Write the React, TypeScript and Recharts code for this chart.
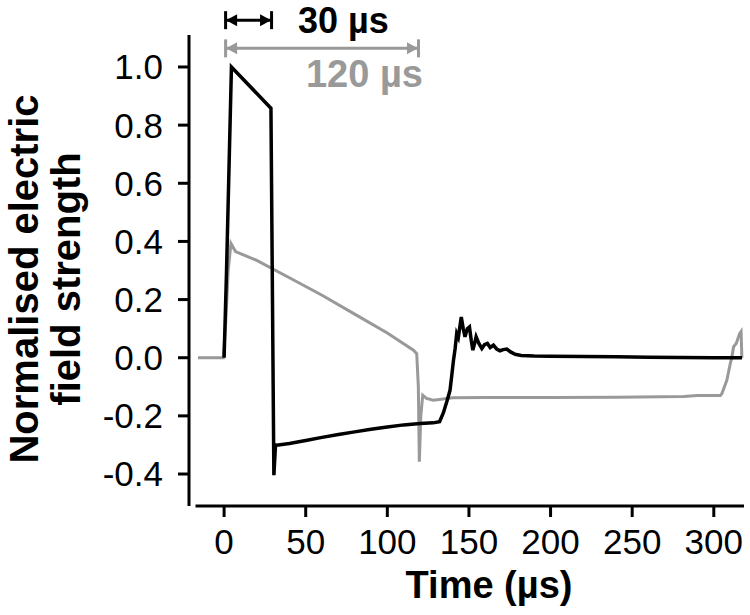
import React from 'react';
import { LineChart, Line, XAxis, YAxis, ReferenceLine, Customized } from 'recharts';

// 30 µs pulse (black)
const pulse30Time = [
  0, 1.5, 4.5, 28.7, 30.5, 31.5, 32.2, 40, 50, 60, 70, 80, 90, 100, 110, 120, 128, 132,
  134.3, 136.5, 138.4, 139.5, 140.5, 141.5, 142.5, 143.5, 145.3, 146.5, 147.6, 149, 150.3,
  151.4, 152.4, 153.5, 154.4, 156, 157.9, 159.5, 161.3, 163, 165, 167, 169, 171, 173.2, 175.5,
  178.3, 182, 190, 200, 220, 240, 260, 280, 300, 317.3,
];
const pulse30Field = [
  0, 0.3, 1.0, 0.858, -0.404, -0.3, -0.301, -0.295, -0.285, -0.274, -0.264, -0.255, -0.246,
  -0.238, -0.231, -0.226, -0.224, -0.22,
  -0.19, -0.15, -0.112, -0.06, -0.01, 0.03, 0.083, 0.07, 0.14, 0.1, 0.072, 0.1, 0.106,
  0.06, 0.026, 0.05, 0.072, 0.05, 0.032, 0.045, 0.049, 0.035, 0.043, 0.03, 0.024, 0.028, 0.03, 0.02,
  0.012, 0.008, 0.006, 0.005, 0.004, 0.003, 0.002, 0.001, 0, 0,
];

// 120 µs pulse (grey)
const pulse120Time = [
  -16, -0.5, 1, 2.5, 4.2, 7, 20, 40, 60, 80, 100, 116, 118, 119, 119.6, 120.5, 121.7, 124, 128.2,
  140, 160, 200, 240, 281.5, 290, 304, 305, 308, 310.1, 311.1, 312.1, 313.8, 315.8, 316.7, 317.2,
];
const pulse120Field = [
  0, 0, 0.12, 0.3, 0.393, 0.365, 0.335, 0.275, 0.215, 0.15, 0.085, 0.026, 0.014, -0.1, -0.358,
  -0.2, -0.129, -0.14, -0.146,
  -0.138, -0.137, -0.137, -0.136, -0.133, -0.13, -0.13, -0.123, -0.077, -0.02, 0.003, 0.037, 0.05,
  0.083, 0.09, 0.0,
];

const xTicks = [0, 50, 100, 150, 200, 250, 300];
const yTicks = [-0.4, -0.2, 0.0, 0.2, 0.4, 0.6, 0.8, 1.0];

const pulseWidthLabels = ['30 µs', '120 µs'];
const pulseWidths = [30, 120];
const arrowLevels = [1.161, 1.064];

const pulse30 = pulse30Time.map((t, i) => ({ t, v: pulse30Field[i] }));
const pulse120 = pulse120Time.map((t, i) => ({ t, v: pulse120Field[i] }));

const BLACK = '#000000';
const GREY = '#999999';
const FONT = '"Liberation Sans", Arial, Helvetica, sans-serif';

const makeArrow = (color: string, text: string, mode: 'right' | 'below') => (props: any) => {
  const { x1, y1, x2 } = props;
  const y = y1;
  const head = 11;
  const half = 6;
  const bar = 9;
  const a = x1 + 2;
  const b = x2 - 2;
  return (
    <g>
      <line x1={a} y1={y} x2={b} y2={y} stroke={color} strokeWidth={3} />
      <line x1={x1 + 1.5} y1={y - bar} x2={x1 + 1.5} y2={y + bar} stroke={color} strokeWidth={3} />
      <line x1={x2 - 1.5} y1={y - bar} x2={x2 - 1.5} y2={y + bar} stroke={color} strokeWidth={3} />
      <polygon points={`${a},${y} ${a + head},${y - half} ${a + head},${y + half}`} fill={color} />
      <polygon points={`${b},${y} ${b - head},${y - half} ${b - head},${y + half}`} fill={color} />
      {mode === 'right' ? (
        <text x={x2 + 25} y={y + 13} fill={color} fontFamily={FONT} fontWeight="bold" fontSize={36}>
          {text}
        </text>
      ) : (
        <text x={x2 + 3} y={y + 39} textAnchor="end" fill={color} fontFamily={FONT} fontWeight="bold" fontSize={38}>
          {text}
        </text>
      )}
    </g>
  );
};

const AxisTitles = () => (
  <g fontFamily={FONT} fontWeight="bold" fill="#000">
    <text x={489} y={598} textAnchor="middle" fontSize={38}>Time (µs)</text>
    <text transform="translate(38,279) rotate(-90)" textAnchor="middle" fontSize={40}>Normalised electric</text>
    <text transform="translate(80,279) rotate(-90)" textAnchor="middle" fontSize={40}>field strength</text>
  </g>
);

export default function App() {
  return (
    <div style={{ position: 'absolute', left: 0, top: 0, background: '#fff' }}>
      <LineChart width={750} height={615} margin={{ top: 35, right: 6, bottom: 0, left: 0 }}>
        <XAxis
          type="number"
          dataKey="t"
          domain={[-21.5, 318.5]}
          ticks={xTicks}
          allowDataOverflow
          axisLine={false}
          tickSize={11}
          tickMargin={12}
          tickLine={{ stroke: '#000', strokeWidth: 3 }}
          tick={{ fill: '#000', fontSize: 35, fontFamily: FONT }}
          height={109}
        />
        <YAxis
          type="number"
          dataKey="v"
          domain={[-0.51, 1.11]}
          ticks={yTicks}
          allowDataOverflow
          tickFormatter={(v: number) => v.toFixed(1)}
          axisLine={{ stroke: '#000', strokeWidth: 3 }}
          tickSize={11}
          tickMargin={15}
          tickLine={{ stroke: '#000', strokeWidth: 3 }}
          tick={{ fill: '#000', fontSize: 35, fontFamily: FONT }}
          width={189}
        />
        <ReferenceLine
          segment={[{ x: -17.5, y: -0.51 }, { x: 318.5, y: -0.51 }]}
          stroke="#000"
          strokeWidth={3}
          ifOverflow="visible"
        />
        <Line data={pulse120} dataKey="v" stroke={GREY} strokeWidth={3} dot={false} isAnimationActive={false} />
        <Line data={pulse30} dataKey="v" stroke={BLACK} strokeWidth={3.5} dot={false} isAnimationActive={false} />
        <ReferenceLine
          segment={[{ x: 0, y: arrowLevels[0] }, { x: pulseWidths[0], y: arrowLevels[0] }]}
          ifOverflow="visible"
          shape={makeArrow(BLACK, pulseWidthLabels[0], 'right')}
        />
        <ReferenceLine
          segment={[{ x: 0, y: arrowLevels[1] }, { x: pulseWidths[1], y: arrowLevels[1] }]}
          ifOverflow="visible"
          shape={makeArrow(GREY, pulseWidthLabels[1], 'below')}
        />
        <Customized component={AxisTitles} />
      </LineChart>
    </div>
  );
}
